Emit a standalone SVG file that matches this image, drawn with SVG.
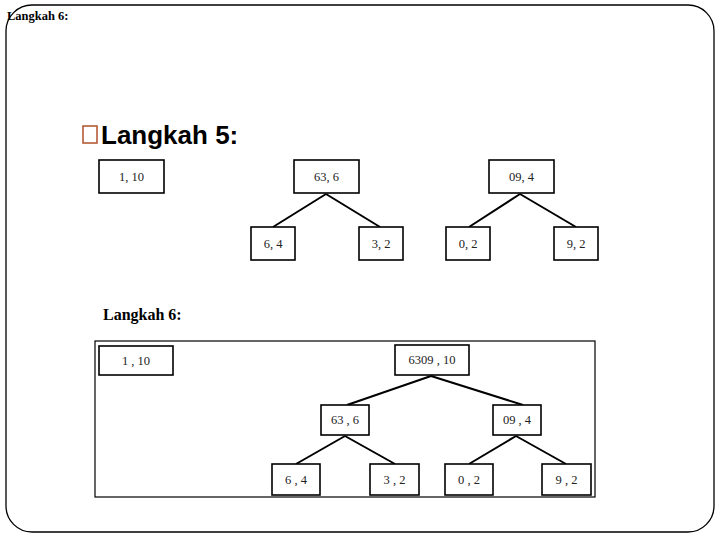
<svg xmlns="http://www.w3.org/2000/svg" width="720" height="540" viewBox="0 0 720 540">
<style>
.box{fill:#fff;stroke:#000;stroke-width:1.6}
.lbl{font-family:"Liberation Serif",serif;font-size:12.5px;fill:#222;text-anchor:middle}
.edge{stroke:#000;stroke-width:2;fill:none}
</style>
<rect x="0" y="0" width="720" height="540" fill="#fff"/>
<rect x="6" y="5" width="708" height="527" rx="26" ry="26" fill="none" stroke="#000" stroke-width="1.3"/>
<text x="7" y="20" font-family="Liberation Serif,serif" font-size="12.5" font-weight="bold">Langkah 6:</text>
<rect x="83" y="126" width="14" height="17" fill="none" stroke="#b0502a" stroke-width="1.5"/>
<text x="101" y="144" font-family="Liberation Sans,Arial,sans-serif" font-size="26" font-weight="bold">Langkah 5:</text>
<text x="103" y="320" font-family="Liberation Serif,serif" font-size="16" font-weight="bold">Langkah 6:</text>
<g id="connectors">
<line class="edge" x1="326" y1="194" x2="273" y2="227"/>
<line class="edge" x1="326" y1="194" x2="380" y2="227"/>
<line class="edge" x1="520" y1="194" x2="469" y2="227"/>
<line class="edge" x1="520" y1="194" x2="576" y2="227"/>
<line class="edge" x1="431" y1="376" x2="347" y2="405"/>
<line class="edge" x1="431" y1="376" x2="523" y2="405"/>
<line class="edge" x1="345" y1="436" x2="296" y2="464"/>
<line class="edge" x1="345" y1="436" x2="395" y2="464"/>
<line class="edge" x1="516" y1="436" x2="469" y2="464"/>
<line class="edge" x1="516" y1="436" x2="566" y2="464"/>
</g>
<g id="s5-a"><rect class="box" x="99" y="160" width="65" height="33"/><text class="lbl" x="131.5" y="181">1, 10</text></g>
<g id="s5-b"><rect class="box" x="294" y="160" width="65" height="33"/><text class="lbl" x="326.5" y="181">63, 6</text></g>
<g id="s5-b1"><rect class="box" x="251" y="227" width="44" height="33"/><text class="lbl" x="273" y="248">6, 4</text></g>
<g id="s5-b2"><rect class="box" x="359" y="227" width="44" height="33"/><text class="lbl" x="381" y="248">3, 2</text></g>
<g id="s5-c"><rect class="box" x="489" y="160" width="65" height="33"/><text class="lbl" x="521.5" y="181">09, 4</text></g>
<g id="s5-c1"><rect class="box" x="446" y="227" width="44" height="33"/><text class="lbl" x="468" y="248">0, 2</text></g>
<g id="s5-c2"><rect class="box" x="554" y="227" width="44" height="33"/><text class="lbl" x="576" y="248">9, 2</text></g>
<rect x="95" y="341" width="500" height="156" fill="none" stroke="#000" stroke-width="1.2"/>
<g id="s6-a"><rect class="box" x="99" y="346" width="74" height="29"/><text class="lbl" x="136" y="365">1 , 10</text></g>
<g id="s6-root"><rect class="box" x="395" y="345" width="74" height="30"/><text class="lbl" x="432" y="364">6309 , 10</text></g>
<g id="s6-b"><rect class="box" x="321" y="405" width="48" height="30"/><text class="lbl" x="345" y="424">63 , 6</text></g>
<g id="s6-c"><rect class="box" x="493" y="405" width="48" height="30"/><text class="lbl" x="517" y="424">09 , 4</text></g>
<g id="s6-b1"><rect class="box" x="272" y="464" width="48" height="31"/><text class="lbl" x="296" y="484">6 , 4</text></g>
<g id="s6-b2"><rect class="box" x="370" y="464" width="49" height="31"/><text class="lbl" x="394.5" y="484">3 , 2</text></g>
<g id="s6-c1"><rect class="box" x="445" y="464" width="48" height="31"/><text class="lbl" x="469" y="484">0 , 2</text></g>
<g id="s6-c2"><rect class="box" x="542" y="464" width="49" height="31"/><text class="lbl" x="566.5" y="484">9 , 2</text></g>
</svg>
